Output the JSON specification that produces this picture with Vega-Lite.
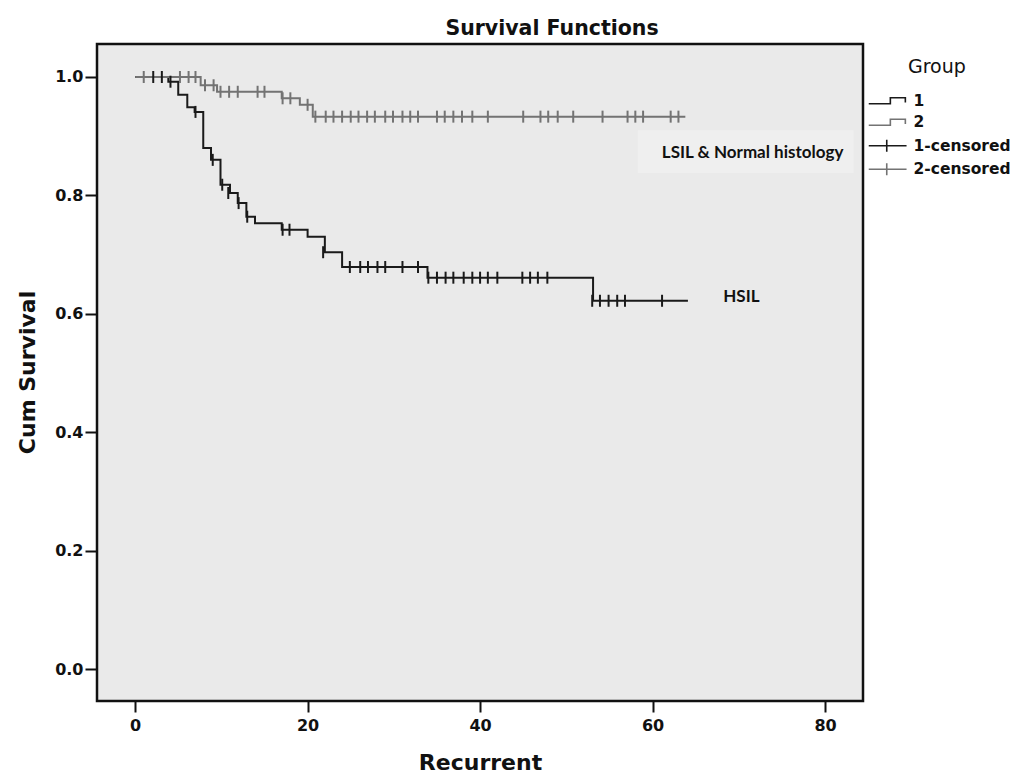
{
  "$schema": "https://vega.github.io/schema/vega-lite/v6.json",
  "width": 766,
  "height": 657,
  "autosize": "none",
  "padding": {"left": 97, "top": 44, "right": 158, "bottom": 72},
  "background": "white",
  "title": {"text": "Survival Functions", "anchor": "middle", "frame": "group", "dx": 72, "dy": 21, "offset": 10, "baseline": "alphabetic", "font": "DejaVu Sans", "fontSize": 20.5, "fontWeight": "bold", "color": "#111111"},
  "config": {
    "view": {"fill": "#eaeaea", "stroke": "#111111", "strokeWidth": 2.5}
  },
  "datasets": {
    "curves": [
      {"group": "1", "t": 0, "s": 1.0},
      {"group": "1", "t": 3.85, "s": 0.992},
      {"group": "1", "t": 5.0, "s": 0.970},
      {"group": "1", "t": 6.05, "s": 0.949},
      {"group": "1", "t": 6.9, "s": 0.941},
      {"group": "1", "t": 7.9, "s": 0.880},
      {"group": "1", "t": 8.8, "s": 0.860},
      {"group": "1", "t": 9.9, "s": 0.818},
      {"group": "1", "t": 11.0, "s": 0.804},
      {"group": "1", "t": 11.9, "s": 0.787},
      {"group": "1", "t": 12.9, "s": 0.764},
      {"group": "1", "t": 13.9, "s": 0.753},
      {"group": "1", "t": 17.0, "s": 0.742},
      {"group": "1", "t": 20.0, "s": 0.730},
      {"group": "1", "t": 22.0, "s": 0.704},
      {"group": "1", "t": 24.0, "s": 0.679},
      {"group": "1", "t": 33.9, "s": 0.661},
      {"group": "1", "t": 53.1, "s": 0.622},
      {"group": "1", "t": 64.1, "s": 0.622},
      {"group": "2", "t": 0, "s": 1.0},
      {"group": "2", "t": 7.6, "s": 0.986},
      {"group": "2", "t": 9.5, "s": 0.975},
      {"group": "2", "t": 17.0, "s": 0.964},
      {"group": "2", "t": 19.1, "s": 0.953},
      {"group": "2", "t": 20.6, "s": 0.933},
      {"group": "2", "t": 63.8, "s": 0.933}
    ],
    "censored": [
      {"group": "1-censored", "t": 2.1, "s": 1.0},
      {"group": "1-censored", "t": 3.1, "s": 1.0},
      {"group": "1-censored", "t": 4.1, "s": 0.992},
      {"group": "1-censored", "t": 7.0, "s": 0.941},
      {"group": "1-censored", "t": 9.0, "s": 0.860},
      {"group": "1-censored", "t": 10.1, "s": 0.818},
      {"group": "1-censored", "t": 10.8, "s": 0.804},
      {"group": "1-censored", "t": 12.0, "s": 0.787},
      {"group": "1-censored", "t": 13.0, "s": 0.764},
      {"group": "1-censored", "t": 17.1, "s": 0.742},
      {"group": "1-censored", "t": 17.9, "s": 0.742},
      {"group": "1-censored", "t": 21.8, "s": 0.704},
      {"group": "1-censored", "t": 24.9, "s": 0.679},
      {"group": "1-censored", "t": 26.1, "s": 0.679},
      {"group": "1-censored", "t": 27.0, "s": 0.679},
      {"group": "1-censored", "t": 28.1, "s": 0.679},
      {"group": "1-censored", "t": 29.0, "s": 0.679},
      {"group": "1-censored", "t": 31.0, "s": 0.679},
      {"group": "1-censored", "t": 32.8, "s": 0.679},
      {"group": "1-censored", "t": 34.0, "s": 0.661},
      {"group": "1-censored", "t": 35.0, "s": 0.661},
      {"group": "1-censored", "t": 36.0, "s": 0.661},
      {"group": "1-censored", "t": 36.9, "s": 0.661},
      {"group": "1-censored", "t": 38.1, "s": 0.661},
      {"group": "1-censored", "t": 39.1, "s": 0.661},
      {"group": "1-censored", "t": 40.0, "s": 0.661},
      {"group": "1-censored", "t": 40.9, "s": 0.661},
      {"group": "1-censored", "t": 42.0, "s": 0.661},
      {"group": "1-censored", "t": 44.9, "s": 0.661},
      {"group": "1-censored", "t": 45.8, "s": 0.661},
      {"group": "1-censored", "t": 46.7, "s": 0.661},
      {"group": "1-censored", "t": 47.8, "s": 0.661},
      {"group": "1-censored", "t": 53.0, "s": 0.622},
      {"group": "1-censored", "t": 53.9, "s": 0.622},
      {"group": "1-censored", "t": 54.9, "s": 0.622},
      {"group": "1-censored", "t": 55.9, "s": 0.622},
      {"group": "1-censored", "t": 56.8, "s": 0.622},
      {"group": "1-censored", "t": 61.1, "s": 0.622},
      {"group": "2-censored", "t": 1.0, "s": 1.0},
      {"group": "2-censored", "t": 5.2, "s": 1.0},
      {"group": "2-censored", "t": 6.2, "s": 1.0},
      {"group": "2-censored", "t": 7.0, "s": 1.0},
      {"group": "2-censored", "t": 8.1, "s": 0.986},
      {"group": "2-censored", "t": 9.1, "s": 0.986},
      {"group": "2-censored", "t": 9.9, "s": 0.975},
      {"group": "2-censored", "t": 10.9, "s": 0.975},
      {"group": "2-censored", "t": 11.9, "s": 0.975},
      {"group": "2-censored", "t": 14.2, "s": 0.975},
      {"group": "2-censored", "t": 15.0, "s": 0.975},
      {"group": "2-censored", "t": 17.1, "s": 0.964},
      {"group": "2-censored", "t": 18.0, "s": 0.964},
      {"group": "2-censored", "t": 20.0, "s": 0.953},
      {"group": "2-censored", "t": 20.9, "s": 0.933},
      {"group": "2-censored", "t": 22.1, "s": 0.933},
      {"group": "2-censored", "t": 23.0, "s": 0.933},
      {"group": "2-censored", "t": 24.0, "s": 0.933},
      {"group": "2-censored", "t": 25.0, "s": 0.933},
      {"group": "2-censored", "t": 25.9, "s": 0.933},
      {"group": "2-censored", "t": 26.9, "s": 0.933},
      {"group": "2-censored", "t": 27.8, "s": 0.933},
      {"group": "2-censored", "t": 29.0, "s": 0.933},
      {"group": "2-censored", "t": 29.9, "s": 0.933},
      {"group": "2-censored", "t": 31.0, "s": 0.933},
      {"group": "2-censored", "t": 31.9, "s": 0.933},
      {"group": "2-censored", "t": 32.8, "s": 0.933},
      {"group": "2-censored", "t": 35.0, "s": 0.933},
      {"group": "2-censored", "t": 35.9, "s": 0.933},
      {"group": "2-censored", "t": 36.9, "s": 0.933},
      {"group": "2-censored", "t": 37.9, "s": 0.933},
      {"group": "2-censored", "t": 39.1, "s": 0.933},
      {"group": "2-censored", "t": 40.9, "s": 0.933},
      {"group": "2-censored", "t": 45.0, "s": 0.933},
      {"group": "2-censored", "t": 47.0, "s": 0.933},
      {"group": "2-censored", "t": 47.9, "s": 0.933},
      {"group": "2-censored", "t": 49.0, "s": 0.933},
      {"group": "2-censored", "t": 50.8, "s": 0.933},
      {"group": "2-censored", "t": 54.2, "s": 0.933},
      {"group": "2-censored", "t": 57.1, "s": 0.933},
      {"group": "2-censored", "t": 58.0, "s": 0.933},
      {"group": "2-censored", "t": 58.9, "s": 0.933},
      {"group": "2-censored", "t": 62.1, "s": 0.933},
      {"group": "2-censored", "t": 63.0, "s": 0.933}
    ],
    "labels": [
      {"label": "LSIL & Normal histology", "t": 71.6, "s": 0.871},
      {"label": "HSIL", "t": 70.3, "s": 0.629}
    ],
    "boxes": [
      {"t": 58.3, "t2": 83.3, "s": 0.910, "s2": 0.838}
    ]
  },
  "layer": [
    {
      "data": {"name": "boxes"},
      "mark": {"type": "rect", "fill": "#efefef"},
      "encoding": {
        "x": {"field": "t", "type": "quantitative", "scale": {"domain": [-4.42, 84.4], "nice": false, "zero": false},
          "axis": {"values": [0, 20, 40, 60, 80], "title": "Recurrent", "grid": false, "domain": false, "tickSize": 11, "tickWidth": 2, "tickColor": "#111111", "labelFont": "DejaVu Sans", "labelFontSize": 16, "labelFontWeight": "bold", "labelColor": "#111111", "labelPadding": 5, "titleFont": "DejaVu Sans", "titleFontSize": 22, "titleFontWeight": "bold", "titleColor": "#111111", "titleY": 61, "titleBaseline": "middle"}},
        "x2": {"field": "t2"},
        "y": {"field": "s", "type": "quantitative", "scale": {"domain": [-0.054, 1.0557], "nice": false, "zero": false},
          "axis": {"values": [0, 0.2, 0.4, 0.6, 0.8, 1.0], "format": ".1f", "title": "Cum Survival", "grid": false, "domain": false, "tickSize": 12, "tickWidth": 2, "tickColor": "#111111", "labelFont": "DejaVu Sans", "labelFontSize": 16, "labelFontWeight": "bold", "labelColor": "#111111", "labelPadding": 2, "titleFont": "DejaVu Sans", "titleFontSize": 22, "titleFontWeight": "bold", "titleColor": "#111111", "titleX": -70, "titleY": 328, "titleAngle": -90, "titleAlign": "center", "titleBaseline": "middle"}},
        "y2": {"field": "s2"}
      }
    },
    {
      "data": {"name": "curves"},
      "mark": {"type": "line", "interpolate": "step-after", "strokeWidth": 2},
      "encoding": {
        "x": {"field": "t", "type": "quantitative"},
        "y": {"field": "s", "type": "quantitative"},
        "color": {"field": "group", "type": "nominal",
          "scale": {"domain": ["1", "2", "1-censored", "2-censored"], "range": ["#1a1a1a", "#737373", "#1a1a1a", "#737373"]},
          "legend": {"title": "Group", "orient": "none", "legendX": 797, "legendY": 14, "padding": 0,
            "titleFont": "DejaVu Sans", "titleFontSize": 19, "titleFontWeight": "normal", "titleColor": "#111111", "titleAnchor": "start", "titlePadding": 16,
            "labelFont": "DejaVu Sans", "labelFontSize": 15.5, "labelFontWeight": "bold", "labelColor": "#111111", "labelOffset": 4, "rowPadding": 4.5,
            "symbolSize": 144, "symbolStrokeWidth": 1.6,
            "encode": {
              "title": {"update": {"dx": {"value": 14}}},
              "symbols": {"update": {"shape": {"signal": "datum.value === '1' || datum.value === '2' ? 'M-5.5,0.5L-1.9,0.5L-1.9,-0.5L0.6,-0.5L0.6,0.3' : 'M-5.5,0L0.8,0M-2.5,-1L-2.5,1'"}, "fill": {"value": "transparent"}, "strokeWidth": {"value": 1.6}}}
            }}
        }
      }
    },
    {
      "data": {"name": "censored"},
      "mark": {"type": "point", "shape": "M0,-1L0,1", "size": 144, "strokeWidth": 2, "filled": false, "opacity": 1},
      "encoding": {
        "x": {"field": "t", "type": "quantitative"},
        "y": {"field": "s", "type": "quantitative"},
        "color": {"field": "group", "type": "nominal"}
      }
    },
    {
      "data": {"name": "labels"},
      "mark": {"type": "text", "font": "Lato", "fontWeight": "bold", "fontSize": 17, "color": "#111111", "align": "center", "baseline": "middle"},
      "encoding": {
        "x": {"field": "t", "type": "quantitative"},
        "y": {"field": "s", "type": "quantitative"},
        "text": {"field": "label", "type": "nominal"}
      }
    }
  ]
}
